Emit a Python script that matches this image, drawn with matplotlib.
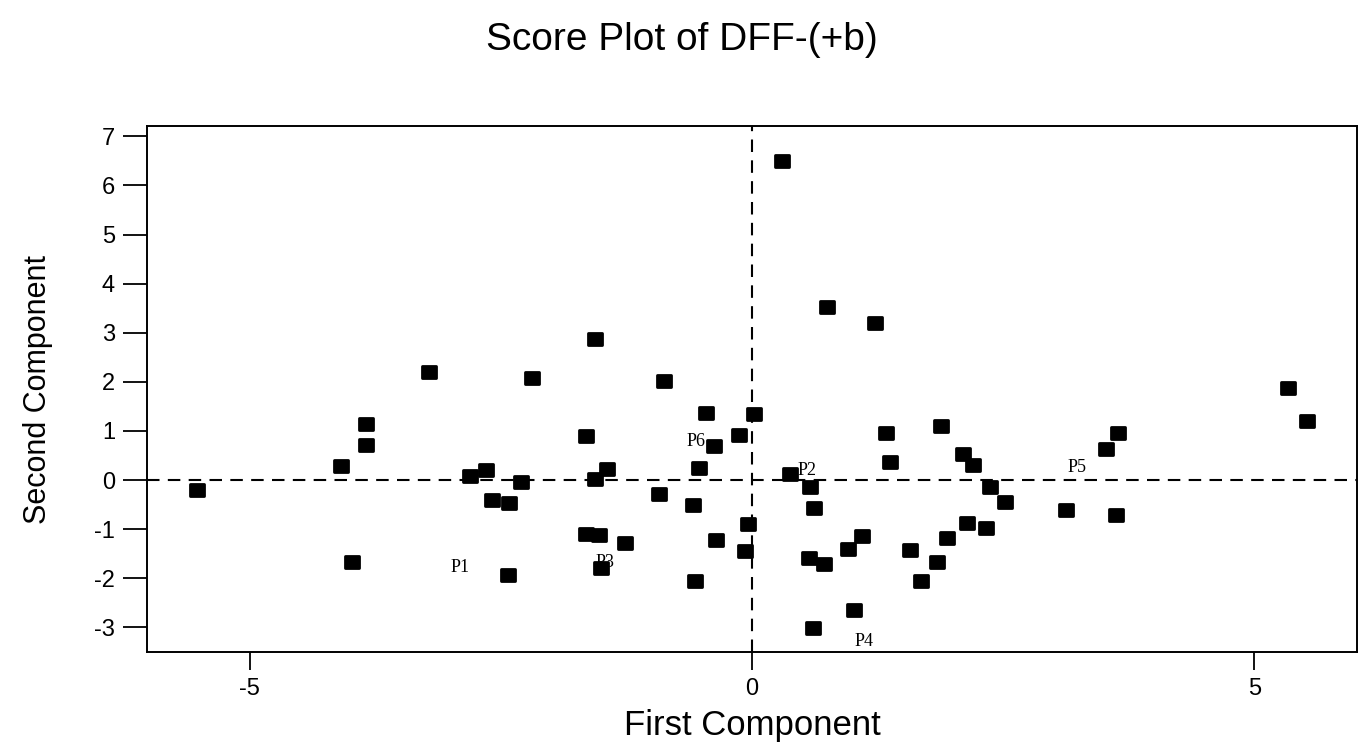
import matplotlib
matplotlib.use("Agg")
from matplotlib import pyplot as plt
from matplotlib.markers import MarkerStyle
from matplotlib.transforms import Affine2D

# Scores (first component, second component)
pc1 = [-5.52, -4.09, -3.84, -3.84, -3.98, -3.21, 0.30, 0.75, 1.22, -1.56,
       -2.19, -0.88, -0.46, 0.02, -1.65, -0.13, -0.38, 1.33, 1.37, -2.65,
       -2.81, -2.30, -1.44, -1.56, -0.53, 0.38, 0.58, -2.59, -2.42, -0.93,
       -0.59, 0.62, -0.04, -1.65, -1.52, -1.26, -0.36, -0.07, 1.09, 0.96,
       0.57, 0.72, -2.43, -1.50, -0.57, 1.01, 0.61, 1.88, 2.10, 2.20,
       2.37, 2.52, 2.14, 2.33, 1.94, 1.57, 1.84, 1.68, 3.12, 3.62,
       3.52, 3.64, 5.33, 5.52]
pc2 = [-0.20, 0.28, 1.15, 0.71, -1.67, 2.20, 6.49, 3.53, 3.19, 2.88,
       2.08, 2.01, 1.36, 1.35, 0.89, 0.92, 0.70, 0.96, 0.36, 0.20,
       0.08, -0.04, 0.23, 0.02, 0.24, 0.12, -0.14, -0.40, -0.47, -0.29,
       -0.51, -0.56, -0.90, -1.09, -1.11, -1.29, -1.21, -1.45, -1.13, -1.40,
       -1.59, -1.70, -1.93, -1.78, -2.06, -2.65, -3.02, 1.11, 0.53, 0.31,
       -0.15, -0.45, -0.87, -0.98, -1.18, -1.43, -1.67, -2.06, -0.60, -0.71,
       0.63, 0.95, 1.88, 1.20]

# Annotations
labels = ["P1", "P3", "P6", "P2", "P4", "P5"]
label_x = [-3.00, -1.56, -0.65, 0.45, 1.02, 3.14]
label_y = [-1.77, -1.67, 0.78, 0.20, -3.29, 0.26]

xticks = [-5, 0, 5]
yticks = [-3, -2, -1, 0, 1, 2, 3, 4, 5, 6, 7]

plt.rcParams['font.family'] = ['Liberation Sans', 'DejaVu Sans']
plt.rcParams['axes.unicode_minus'] = False

fig = plt.figure(figsize=(13.63, 7.48), dpi=100)
ax = fig.add_axes([147 / 1363, 1 - 652 / 748, 1210 / 1363, 526 / 748])

ax.axhline(0, color='black', linestyle=(0, (6, 4)), linewidth=1.5, zorder=1)
ax.axvline(0, color='black', linestyle=(0, (6, 4)), linewidth=1.5, zorder=1)

# slightly wide, rounded squares like the original
mk = MarkerStyle('s', joinstyle='round', transform=Affine2D().scale(1.2, 0.95))
ax.plot(pc1, pc2, linestyle='none', marker=mk, markersize=8.5,
        color='black', markeredgewidth=2.0, markeredgecolor='black', zorder=3)

for lab, lx, ly in zip(labels, label_x, label_y):
    ax.text(lx, ly, lab, family=['Liberation Serif', 'DejaVu Serif'],
            fontsize=13, ha='left', va='center', zorder=4)

ax.set_xlim(-6.02, 6.02)
ax.set_ylim(-3.5, 7.21)
ax.set_xticks(xticks)
ax.set_yticks(yticks)
ax.tick_params(axis='y', direction='out', length=17, width=1.3, labelsize=17, pad=6)
ax.tick_params(axis='x', direction='out', length=13, width=1.3, labelsize=17, pad=6)
for s in ax.spines.values():
    s.set_linewidth(1.4)

ax.set_xlabel("First Component", fontsize=25, labelpad=6)
ax.set_ylabel("Second Component", fontsize=22, labelpad=30)

fig.suptitle("Score Plot of DFF-(+b)", fontsize=28, x=0.5, y=1 - 40 / 748, va='center')

fig.savefig("out.png", dpi=100)
